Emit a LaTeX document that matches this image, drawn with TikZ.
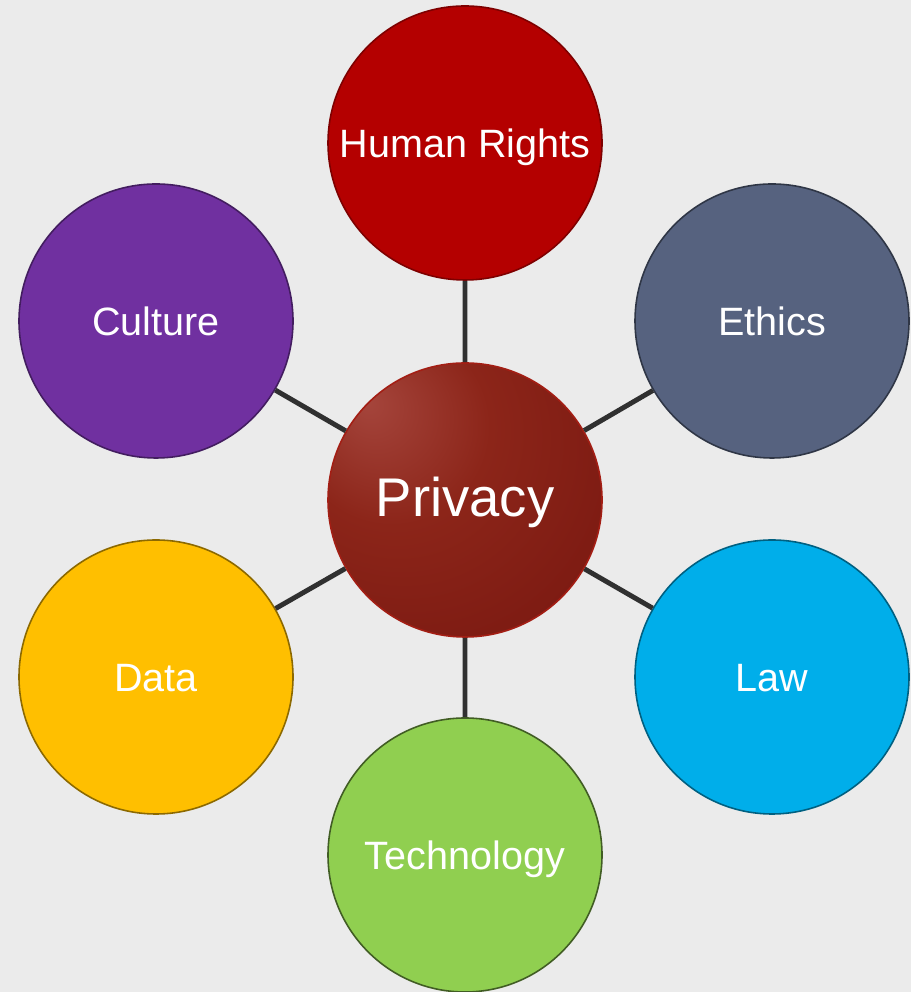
\documentclass[tikz,border=0pt]{standalone}
\usepackage{fontspec}
\setmainfont{Liberation Sans}
\usepackage{tikz}
\usepackage{xcolor}
\usetikzlibrary{positioning}

\definecolor{paper}{HTML}{EBEBEB}
\definecolor{spoke}{HTML}{303030}
\definecolor{hrred}{HTML}{B40000}
\definecolor{ethgray}{HTML}{56627F}
\definecolor{lawblue}{HTML}{00AEEA}
\definecolor{techgreen}{HTML}{90CF50}
\definecolor{datagold}{HTML}{FFBF00}
\definecolor{cultpurple}{HTML}{7030A0}
\definecolor{privlight}{HTML}{A5453C}
\definecolor{privmid}{HTML}{8C2519}
\definecolor{privdark}{HTML}{781710}

\pgfdeclareradialshading{privacyglow}{\pgfpoint{-18bp}{18bp}}{color(0bp)=(privlight); color(18bp)=(privmid); color(45bp)=(privdark); color(70bp)=(privdark)}

\tikzset{
    topic/.style={circle, minimum size=5.48cm, inner sep=0pt, line width=0.9pt,
        text=white, text height=16pt, text depth=0pt, font=\fontsize{22.5}{27}\selectfont},
    hub/.style={topic, shading=privacyglow, draw=privmid!80!red,
        text height=22pt, text depth=3pt, font=\fontsize{31}{37}\selectfont},
    spokeline/.style={draw=spoke, line width=2.8pt}
}

\begin{document}
\begin{tikzpicture}
                        \fill[paper] (0, 0) rectangle (18.22, 19.84);
                        \useasboundingbox (0, 0) rectangle (18.22, 19.84);

                        \node[hub] (privacy) at (9.30, 9.84) {Privacy};
                        \node[topic, fill=hrred, draw=hrred!70!black] (rights) at (9.30, 16.98) {Human Rights};
                        \node[topic, fill=ethgray, draw=ethgray!55!black] (ethics) at (15.44, 13.42) {Ethics};
                        \node[topic, fill=lawblue, draw=lawblue!55!black] (law) at (15.44, 6.30) {Law};
                        \node[topic, fill=techgreen, draw=techgreen!45!black] (tech) at (9.30, 2.74) {Technology};
                        \node[topic, fill=datagold, draw=datagold!55!black] (data) at (3.12, 6.30) {Data};
                        \node[topic, fill=cultpurple, draw=cultpurple!60!black] (culture) at (3.12, 13.42) {Culture};

                        \path[spokeline]
                        (privacy) -- (rights)
                        (privacy) -- (ethics)
                        (privacy) -- (law)
                        (privacy) -- (tech)
                        (privacy) -- (data)
                        (privacy) -- (culture);
                    \end{tikzpicture}
\end{document}
